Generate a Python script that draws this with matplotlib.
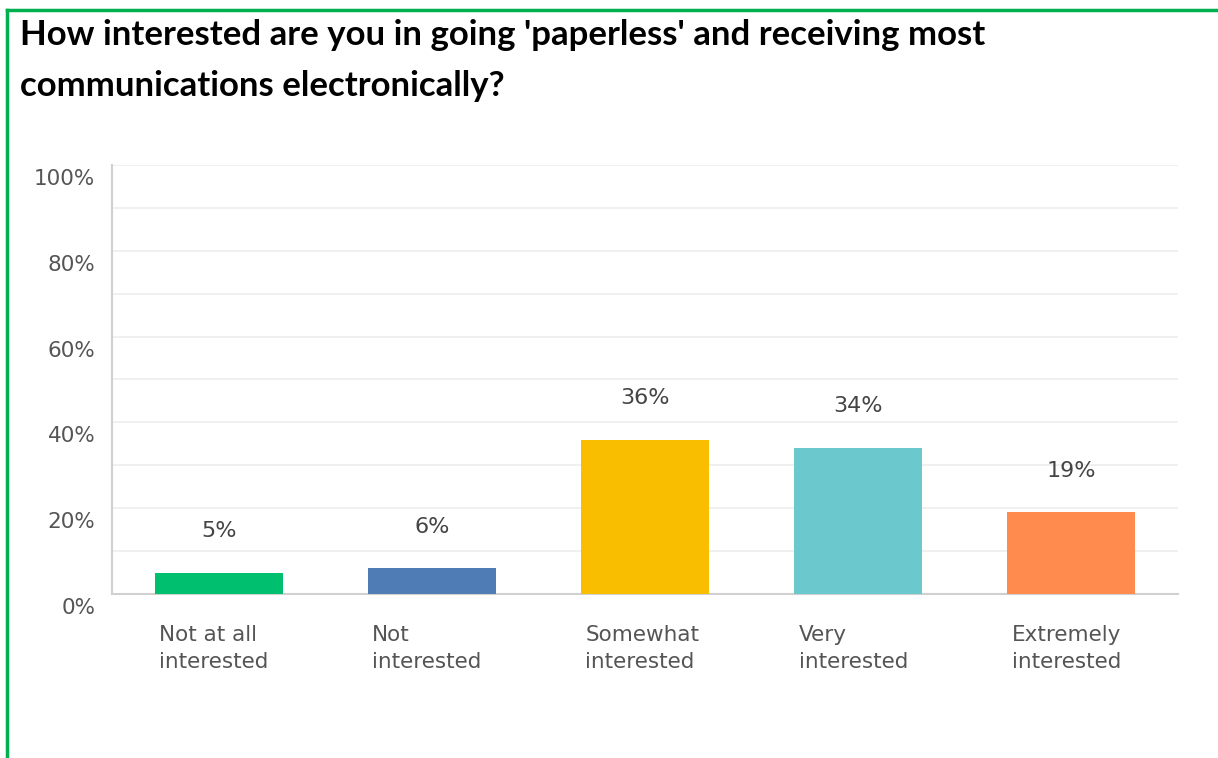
import matplotlib.pyplot as plt
from matplotlib.lines import Line2D
from matplotlib.transforms import ScaledTranslation

categories = ["Not at all\ninterested", "Not\ninterested", "Somewhat\ninterested",
              "Very\ninterested", "Extremely\ninterested"]
values = [5, 6, 36, 34, 19]
colors = ["#00BF6F", "#507CB6", "#F9BE00", "#6BC8CD", "#FF8B4F"]
yticks = [0, 20, 40, 60, 80, 100]
title = "How interested are you in going 'paperless' and receiving most\ncommunications electronically?"


def main():
    fig = plt.figure(figsize=(12.18, 7.58), dpi=100)
    ax = fig.add_axes([112 / 1218, 1 - 594 / 758, 1066 / 1218, 429 / 758])

    x = list(range(len(categories)))
    ax.bar(x, values, width=0.6, color=colors, zorder=3)
    ax.set_xlim(-0.5, len(categories) - 0.5)
    ax.set_ylim(0, 100)

    for xi, v in zip(x, values):
        ax.annotate("{}%".format(v), (xi, v), xytext=(0, 30), textcoords="offset points",
                    ha="center", va="center", fontsize=16, color="#444444")

    ax.set_yticks(yticks)
    ax.set_yticklabels(["{}%".format(t) for t in yticks], fontsize=15.5, color="#555555")
    ax.set_yticks(range(10, 100, 20), minor=True)
    ax.grid(axis="y", which="both", color="#EEEEEE", linewidth=1.2, zorder=0)
    ax.tick_params(axis="y", which="both", length=0, pad=12)
    off = ScaledTranslation(0, -12 / 100, fig.dpi_scale_trans)
    for lab in ax.get_yticklabels():
        lab.set_transform(lab.get_transform() + off)

    ax.set_xticks(x)
    ax.set_xticklabels([])
    ax.tick_params(axis="x", length=0)
    for xi, c in zip(x, categories):
        ax.annotate(c, (xi - 0.28, 0), xytext=(0, -22), textcoords="offset points",
                    ha="left", va="top", fontsize=15.5, color="#555555",
                    linespacing=1.45)

    for s in ["top", "right"]:
        ax.spines[s].set_visible(False)
    ax.spines["left"].set_color("#D0D0D0")
    ax.spines["bottom"].set_color("#D0D0D0")
    ax.spines["left"].set_linewidth(1.5)
    ax.spines["bottom"].set_linewidth(1.5)

    fig.text(20 / 1218, 1 - 19 / 758, title, ha="left", va="top", fontsize=25,
             fontweight="bold", family="Lato", color="black", linespacing=1.75)

    green = "#00B050"
    fig.add_artist(Line2D([7 / 1218, 1.0], [1 - 9.5 / 758, 1 - 9.5 / 758],
                          transform=fig.transFigure, color=green, linewidth=2.5))
    fig.add_artist(Line2D([7 / 1218, 7 / 1218], [0, 1 - 9.5 / 758],
                          transform=fig.transFigure, color=green, linewidth=2.5))

    fig.savefig("out.png", dpi=100)


if __name__ == "__main__":
    main()
